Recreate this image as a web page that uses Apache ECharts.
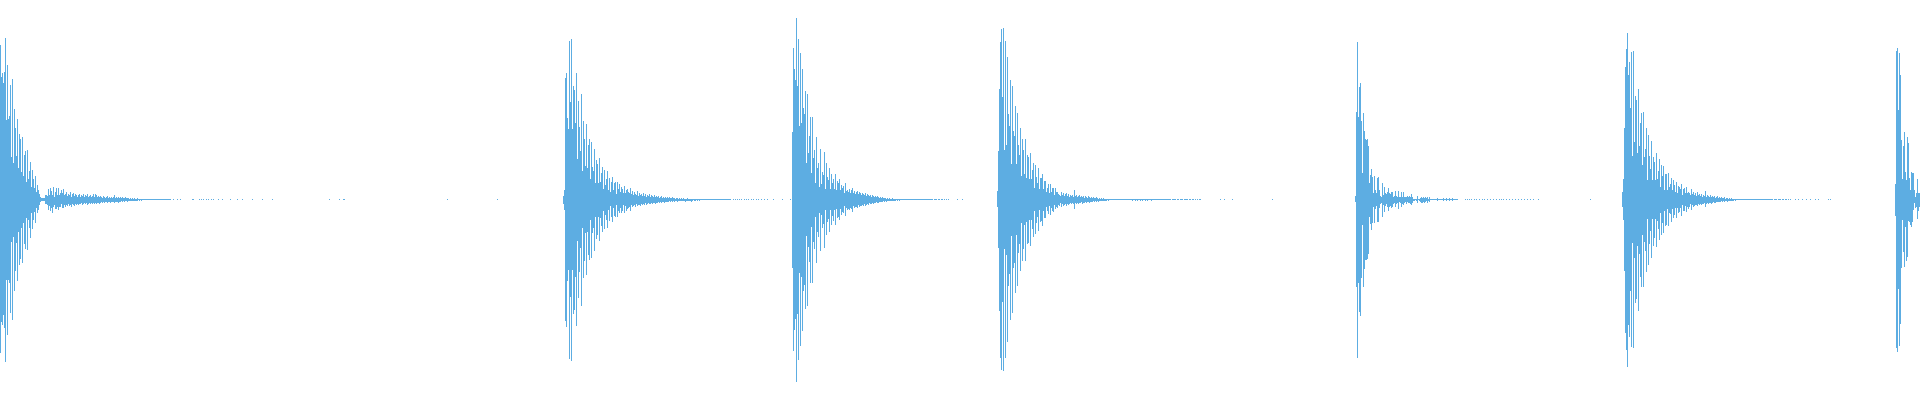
<!DOCTYPE html>
<html>
<head>
<meta charset="utf-8">
<script src="https://cdn.jsdelivr.net/npm/echarts@6/dist/echarts.min.js"></script>
<style>
html,body{margin:0;padding:0;background:#ffffff;}
#chart{width:1920px;height:400px;}
</style>
</head>
<body>
<div id="chart"></div>
<script>
// ---- data: per time-bin peak (upper) and trough (lower) of the waveform ----
const binCount = 1920;

const hitStarts = [0, 563, 792, 997, 1355, 1622, 1895];

const hit1Up = [155,123,127,117,128,162,80,135,81,84,115,43,121,37,91,72,44,81,32,66,61,28,63,24,45,49,18,50,21,29,38,13,30,21,12,24,8,15,10,6,3,2,2,2,2,5,5,4,11,5,12,9,5,13,3,8,12,5,12,5,7,10,7,11,5,6,8,4,6,5,8,3,6,7,4,6,5,3,5,6,3,5,4,6,3,5,4,6,3,4,5,3,4,6,3,6,5,3,4,3,4,3,2,4,3,2,3,4,2,3,2,3,2,3,5,2,3,2,3,2,3,2,3,2,2,3,2,2,2,1,2,1,2,1,2,1,1,2,1,1,1,1,1,1,1,1,1,1,1,1,1,1,1,1,1,1,1,1,1,1,1,1,1,1,1,1,1,1,1,1,1];
const hit1Down = [-153,-122,-125,-115,-128,-162,-80,-135,-80,-83,-113,-42,-120,-37,-91,-71,-43,-81,-32,-65,-59,-28,-63,-23,-44,-49,-18,-50,-20,-28,-38,-13,-29,-20,-12,-23,-8,-13,-10,-5,-2,-1,-1,-1,-1,-4,-4,-5,-10,-6,-11,-8,-13,-7,-5,-9,-9,-7,-10,-7,-7,-4,-8,-8,-5,-7,-5,-6,-4,-6,-5,-7,-4,-5,-6,-4,-5,-4,-5,-4,-4,-3,-5,-4,-3,-4,-3,-5,-4,-3,-4,-3,-4,-3,-4,-3,-4,-3,-3,-4,-3,-2,-3,-2,-3,-2,-2,-3,-2,-2,-3,-2,-2,-2,-3,-2,-2,-2,-3,-2,-2,-1,-2,-1,-2,-1,-1,-2,-1,-1,-1,-1,-1,-1,-1,-1,-1,-1,0,-1,0,-1,0];

const hit2Up = [4,10,122,127,82,71,159,98,161,71,114,110,77,127,41,99,73,49,106,29,79,61,34,76,32,55,61,21,58,33,29,51,17,40,36,17,42,18,27,33,11,30,15,21,29,10,22,8,18,23,10,17,18,6,18,11,16,8,13,11,7,14,7,10,11,8,7,12,6,9,5,8,6,5,9,4,7,5,6,4,7,4,6,3,5,4,6,3,5,4,3,5,3,4,3,4,2,3,4,2,3,2,3,2,3,2,3,2,2,3,2,2,1,2,2,1,2,1,2,1,2,1,1,1,2,1,1,1,1,1,1,1,1,1,1,1,1,1,1,1,1,1,1,1,1,1,1,1,1,1,1,1,1,1,1,1,1,1,1,1,1,1,1,1,1,1,1,1];
const hit2Down = [-4,-10,-121,-127,-81,-70,-159,-97,-161,-70,-114,-110,-77,-126,-41,-98,-72,-48,-106,-28,-78,-61,-33,-75,-32,-55,-60,-20,-58,-33,-28,-51,-17,-39,-35,-17,-41,-18,-26,-32,-11,-29,-15,-20,-28,-10,-21,-6,-17,-22,-8,-16,-17,-5,-17,-11,-13,-8,-13,-11,-5,-13,-6,-11,-9,-8,-7,-11,-5,-7,-6,-5,-7,-4,-6,-5,-5,-6,-4,-5,-4,-5,-3,-5,-4,-3,-4,-4,-3,-4,-3,-3,-4,-3,-3,-2,-3,-2,-3,-2,-2,-3,-2,-2,-2,-2,-1,-2,-1,-2,-1,-2,-1,-1,-2,-1,-1,-1,-1,-1,-1,-1,-2,-1,-1,-1,-1,-1,-2,-1,0,-1,-1,0,-1,0,-1];

const hit3Up = [68,152,131,120,182,114,161,74,147,77,131,92,86,109,37,106,47,64,83,27,83,42,50,17,63,32,37,13,51,16,28,25,48,11,37,23,20,32,11,26,17,21,11,26,10,19,17,21,10,15,12,14,7,17,9,10,8,11,7,10,12,7,9,6,8,9,6,8,7,5,7,6,5,7,4,6,5,4,5,3,5,4,3,4,3,4,3,2,3,2,3,2,2,2,1,2,1,2,1,1,2,1,1,1,1,1,1,1,1,1,1,1,1,1,1,1,1,1,1,1,1,1,1,1,1,1,1,1,1,1,1,1,1,1,1,1,1,1,1,1,1,0,1,1,1,0,1,1,0,1,1,0,1,0,1,0,1];
const hit3Down = [-68,-151,-130,-119,-182,-114,-160,-73,-146,-77,-131,-91,-85,-109,-36,-106,-47,-62,-83,-27,-83,-42,-49,-17,-63,-32,-37,-13,-51,-15,-28,-24,-48,-10,-35,-22,-19,-32,-10,-25,-16,-21,-10,-25,-9,-18,-17,-20,-9,-15,-12,-13,-6,-16,-8,-10,-9,-10,-8,-9,-12,-6,-8,-7,-7,-8,-5,-7,-6,-6,-5,-6,-4,-6,-5,-4,-5,-3,-4,-4,-3,-4,-3,-3,-2,-3,-3,-2,-2,-2,-2,-1,-2,-1,-2,-1,-1,-1,-1,-1,-1,-1,-1,-1,0,-1,0,-1,0];

const hit4Up = [9,49,111,158,171,103,172,50,159,55,143,86,74,120,36,114,69,64,94,36,87,55,45,72,24,61,50,26,61,22,45,43,21,47,21,30,37,12,35,23,17,32,11,22,22,26,11,19,19,8,12,16,7,16,8,12,12,5,12,8,8,6,5,4,8,5,7,4,6,7,4,6,3,5,4,5,3,10,4,5,3,4,5,3,4,3,4,2,4,3,2,4,3,2,3,2,3,2,2,3,2,1,2,1,2,1,2,1,1,1,1,1,1,1,1,1,1,1,1,1,1,1,1,1,1,1,1,1,1,1,1,1,1,1,1,1,1,1,1,1,1,1,1,1,1,1,1,1,1,1,1,1,1,1,1,1,1,1,1,1,1,1,1,1,1,1,1,1,1,1,1,1,1,1,0,1,1,1,1,0,1,1,0,1,1,1,0,1,1,1,1,0,1,1,0,1,1,0,1,0,1,0,1,1];
const hit4Down = [-7,-48,-111,-158,-170,-102,-171,-49,-158,-55,-142,-86,-74,-120,-36,-113,-68,-63,-93,-35,-86,-53,-44,-71,-23,-61,-49,-25,-61,-22,-44,-43,-20,-46,-20,-29,-37,-11,-34,-23,-17,-31,-10,-22,-21,-26,-11,-18,-18,-7,-11,-14,-6,-15,-8,-11,-12,-5,-9,-7,-8,-5,-6,-3,-7,-4,-6,-5,-4,-6,-4,-5,-4,-3,-4,-3,-4,-9,-3,-4,-3,-4,-3,-3,-2,-4,-3,-3,-2,-3,-2,-2,-3,-2,-2,-2,-1,-2,-1,-2,-1,-2,-1,-1,-1,-1,-1,-1,-1,-1,0,-1,0,0,0,0,0,0,0,0,0,0,0,0,0,0,0,0,0,0,0,0,0,0,0,-1,0,0,-1,0,-1,0,0,-1,0,-1,0,0,-1,0,-1,0,0,0,-1,0];

const hit5Up = [4,88,158,83,113,117,79,27,87,69,61,60,61,54,17,25,31,23,7,24,10,7,22,23,10,4,3,17,5,13,7,6,8,12,7,6,8,8,3,4,9,4,3,9,3,3,8,3,8,3,3,3,4,3,4,3,6,3,1,1,1,1,4,1,1,2,3,2,3,2,3,2,3,1,3,1,1,1,1,1,1,1,2,1,1,1,1,1,2,1,1,2,1,1,2,1,1,2,1,1,1,1,1];
const hit5Down = [-2,-87,-158,-83,-112,-116,-78,-25,-87,-69,-60,-60,-59,-54,-17,-24,-30,-23,-7,-23,-9,-6,-22,-22,-8,-4,-3,-17,-5,-12,-6,-4,-7,-11,-7,-6,-8,-7,-4,-3,-7,-4,-3,-9,-2,-3,-7,-4,-5,-3,-2,-4,-2,-3,-3,-4,-5,-3,-1,-1,0,-1,-3,0,-1,-2,-3,-3,-2,-3,-2,-1,-3,-1,-2,0,0,0,0,0,0,0,-1,0,0,0,0,0,-1,0,0,-1,0,0,-1,0,0,-1,0,0];

const hit6Up = [8,21,72,133,151,167,125,138,92,148,44,149,58,104,100,47,111,54,77,87,35,88,43,51,72,20,65,44,31,59,20,43,38,20,47,21,29,41,13,35,24,34,10,26,26,10,27,13,16,22,10,20,15,8,18,7,14,13,11,16,5,11,12,7,13,7,8,7,5,11,6,8,5,7,4,8,5,6,4,6,3,5,4,9,3,5,4,3,5,3,4,3,4,2,3,4,2,3,2,3,2,2,3,1,2,2,1,2,1,2,1,1,1,1,1,1,1,1,1,1,1,1,1,1,1,1,1,1,1,1,1,1,1,1,1,1,1,1,1,1,1,1,1,1,1,1,1,1,1,1,1,0,1,1,1,0,1,1,1,0,1,1,0,1,1,0,1,0,1];
const hit6Down = [-7,-20,-71,-133,-150,-167,-125,-137,-91,-147,-43,-148,-58,-103,-99,-46,-111,-54,-77,-87,-35,-87,-42,-51,-72,-19,-65,-44,-31,-58,-19,-46,-38,-19,-47,-21,-29,-40,-13,-35,-23,-33,-11,-26,-25,-9,-26,-13,-14,-22,-9,-18,-15,-8,-18,-8,-13,-12,-8,-16,-5,-11,-11,-6,-12,-7,-9,-7,-4,-10,-5,-7,-6,-5,-5,-6,-4,-5,-4,-5,-4,-4,-3,-7,-4,-3,-4,-3,-3,-4,-3,-2,-3,-3,-2,-2,-2,-2,-2,-1,-2,-1,-2,-1,-1,-2,-1,-1,-1,-1,-1,-1,0,-1,0];

const hit7Up = [16,149,152,90,147,125,60,21,54,68,28,20,63,57,22,10,28,27,27,10,3,7,21,7,7];
const hit7Down = [-16,-148,-152,-89,-146,-124,-68,-20,-52,-67,-27,-61,-57,-21,-22,-25,-27,-22,-10,-3,-8,-7,-19,-11,-7];

// isolated faint samples between the hits
const faintBins = [173,177,180,192,193,199,201,203,206,208,211,213,218,222,230,237,242,252,262,272,329,339,343,344,447,497,
  733,735,737,739,741,744,746,748,751,753,756,758,761,764,767,773,782,790,
  957,962,
  1220,1224,1232,1272,
  1465,1467,1469,1471,1474,1476,1479,1482,1484,1487,1490,1493,1496,1499,1501,1503,1506,1509,1512,1515,1518,1521,1524,1527,1530,1533,1538,1590,
  1795,1798,1802,1806,1810,1815,1818,1828,1830];
const faintLevel = 1;

// ---- build full series from the named arrays ----
const hitsUp = [hit1Up, hit2Up, hit3Up, hit4Up, hit5Up, hit6Up, hit7Up];
const hitsDown = [hit1Down, hit2Down, hit3Down, hit4Down, hit5Down, hit6Down, hit7Down];
const bins = Array.from({length: binCount}, (_, i) => String(i));
const upper = new Array(binCount).fill(0);
const lower = new Array(binCount).fill(0);
faintBins.forEach(b => { upper[b] = faintLevel; });
hitStarts.forEach((s, h) => {
  hitsUp[h].forEach((v, i) => { if (s + i < binCount) upper[s + i] = v; });
  hitsDown[h].forEach((v, i) => { if (s + i < binCount) lower[s + i] = v; });
});

const waveColor = '#5dade2';
const chart = echarts.init(document.getElementById('chart'), null, {renderer: 'canvas'});
chart.setOption({
  animation: false,
  grid: {left: 0, right: 0, top: 0, bottom: 0},
  xAxis: {type: 'category', data: bins, show: false, boundaryGap: true},
  yAxis: {type: 'value', min: -200, max: 200, show: false, splitLine: {show: false}},
  series: [
    {type: 'bar', name: 'peak', data: upper, barWidth: 1, barGap: '-100%', barCategoryGap: 0,
     itemStyle: {color: waveColor}, silent: true, large: false},
    {type: 'bar', name: 'trough', data: lower, barWidth: 1, barGap: '-100%', barCategoryGap: 0,
     itemStyle: {color: waveColor}, silent: true, large: false}
  ]
});
</script>
</body>
</html>
